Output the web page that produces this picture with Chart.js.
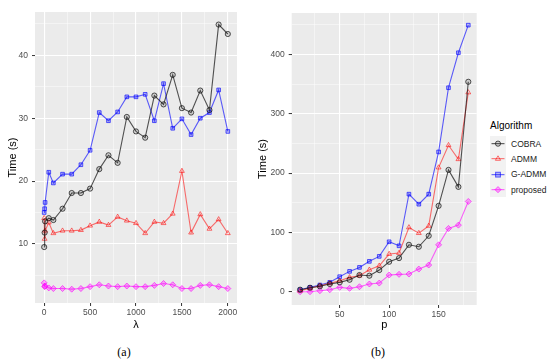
<!DOCTYPE html>
<html>
<head>
<meta charset="utf-8">
<script src="https://cdn.jsdelivr.net/npm/chart.js@4.4.1/dist/chart.umd.min.js"></script>
<style>
  html, body { margin: 0; padding: 0; background: #ffffff; }
  body { width: 550px; height: 363px; position: relative; overflow: hidden; font-family: "Liberation Sans", Arial, sans-serif; }
  .panel { position: absolute; top: 0; }
  .cap { position: absolute; top: 345px; font-family: "Liberation Serif", "DejaVu Serif", serif; font-size: 12px; color: #000; width: 40px; text-align: center; }
  #legend { position: absolute; left: 490px; top: 119px; font-family: "Liberation Sans", Arial, sans-serif; }
  #legend .ttl { font-size: 10px; color: #000; margin-bottom: 3px; height: 14px; line-height: 14px; }
  #legend .row { height: 15.3px; display: flex; align-items: center; }
  #legend .key { width: 16px; height: 15.3px; background: #F2F2F2; }
  #legend .lab { font-size: 8.5px; color: #1a1a1a; margin-left: 5px; }
</style>
</head>
<body>
<div class="panel" style="left:0px;"><canvas id="c1" width="245" height="332"></canvas></div>
<div class="panel" style="left:250px;"><canvas id="c2" width="235" height="332"></canvas></div>
<div id="legend"></div>
<div class="cap" style="left:104px;">(a)</div>
<div class="cap" style="left:358px;">(b)</div>
<script>
// ---------- data ----------
const seriesNames = ["COBRA", "ADMM", "G-ADMM", "proposed"];

const lambdaValues = [0, 5, 10, 50, 100, 200, 300, 400, 500, 600, 700, 800, 900, 1000, 1100, 1200, 1300, 1400, 1500, 1600, 1700, 1800, 1900, 2000];
const cobraA  = [9.5, 11.8, 13.6, 14.1, 13.8, 15.6, 18.1, 18.1, 18.8, 21.9, 24.1, 22.9, 30.2, 27.9, 26.9, 33.6, 32.2, 36.9, 31.6, 30.9, 34.4, 31.3, 44.9, 43.4];
const admmA   = [14.1, 10.8, 12.1, 13.4, 11.7, 12.1, 12.1, 12.2, 12.9, 13.5, 13.0, 14.3, 13.7, 13.3, 11.7, 13.5, 13.3, 14.8, 21.6, 11.8, 14.7, 12.4, 13.9, 11.7];
const gadmmA  = [15.0, 15.6, 16.6, 21.4, 19.7, 21.1, 21.1, 22.6, 24.9, 30.9, 29.6, 31.0, 33.4, 33.4, 33.8, 29.6, 35.5, 28.4, 29.9, 27.4, 30.0, 30.9, 34.5, 27.9];
const propA   = [3.8, 3.2, 3.3, 3.0, 2.9, 2.9, 2.8, 2.9, 3.2, 3.5, 3.3, 3.2, 3.3, 3.2, 3.2, 3.4, 3.7, 3.5, 2.9, 2.9, 3.4, 3.5, 3.2, 2.9];

const pValues = [10, 20, 30, 40, 50, 60, 70, 80, 90, 100, 110, 120, 130, 140, 150, 160, 170, 180];
const cobraB  = [3.4, 6.7, 9.1, 13.0, 15.8, 20.2, 28.1, 27.0, 36.5, 50.5, 56.7, 79.1, 75.8, 94.3, 144.8, 205.4, 176.8, 354.0];
const admmB   = [1.7, 5.7, 10.1, 14.1, 18.5, 24.2, 27.0, 37.0, 43.8, 63.5, 65.2, 108.4, 98.8, 111.0, 209.4, 247.0, 223.4, 336.0];
const gadmmB  = [3.4, 7.4, 11.3, 15.8, 25.3, 34.3, 41.0, 51.2, 59.6, 84.2, 77.4, 164.5, 147.6, 164.5, 235.7, 344.0, 403.0, 449.5];
const propB   = [0.0, 0.0, 1.7, 3.4, 7.4, 5.7, 8.4, 13.0, 14.6, 28.1, 29.3, 29.8, 38.2, 45.0, 79.1, 106.7, 112.3, 152.2];

const xTicksA = [0, 500, 1000, 1500, 2000];
const yTicksA = [10, 20, 30, 40];
const xTicksB = [50, 100, 150];
const yTicksB = [0, 100, 200, 300, 400];

// ---------- styles ----------
const styles = [
  { color: "rgba(20,20,20,0.72)",  point: "circle",   fill: "rgba(0,0,0,0.12)",      r: 2.6 },
  { color: "rgba(255,0,0,0.55)",   point: "triangle", fill: "rgba(0,0,0,0)",         r: 2.8 },
  { color: "rgba(0,0,255,0.62)",   point: "rect",     fill: "rgba(0,0,255,0.25)",    r: 2.6 },
  { color: "rgba(255,0,255,0.6)",  point: "rectRot",  fill: "rgba(255,0,255,0.3)",   r: 3.0 }
];

function mkSets(xs, ys) {
  return ys.map((arr, i) => ({
    label: seriesNames[i],
    data: xs.map((x, k) => ({ x: x, y: arr[k] })),
    borderColor: styles[i].color,
    backgroundColor: styles[i].fill,
    pointBorderColor: styles[i].color,
    pointBackgroundColor: styles[i].fill,
    pointStyle: styles[i].point,
    pointRadius: styles[i].r,
    pointBorderWidth: 1,
    borderWidth: 1.1,
    tension: 0,
    fill: false
  }));
}

const panelBg = {
  id: "panelBg",
  beforeDraw(chart) {
    const a = chart.chartArea, c = chart.ctx;
    c.save(); c.fillStyle = "#EBEBEB";
    c.fillRect(a.left, a.top, a.right - a.left, a.bottom - a.top);
    c.restore();
  }
};

function axis(min, max, majors, titleText, isY, fixedSize) {
  const isMajor = v => majors.some(m => Math.abs(m - v) < 1e-6);
  const step = majors[1] - majors[0];
  // major breaks plus the minor breaks halfway between them (ggplot2 style)
  const all = [];
  for (let v = majors[0] - step / 2; v <= max; v += step / 2) if (v >= min) all.push(v);
  return {
    type: "linear", min: min, max: max,
    border: { display: false },
    afterBuildTicks: s => { s.ticks = all.map(v => ({ value: v })); },
    grid: {
      color: ctx => ctx.tick && isMajor(ctx.tick.value) ? "#FFFFFF" : "rgba(255,255,255,0.8)",
      lineWidth: ctx => ctx.tick && isMajor(ctx.tick.value) ? 1.1 : 0.55,
      drawTicks: true, tickLength: 3,
      tickColor: ctx => ctx.tick && isMajor(ctx.tick.value) ? "#333333" : "rgba(0,0,0,0)",
      tickWidth: 1
    },
    ticks: {
      autoSkip: false, maxRotation: 0,
      color: "#4D4D4D", font: { family: "Liberation Sans", size: 8.5 },
      padding: isY ? 4 : 2,
      callback: v => isMajor(v) ? String(v) : ""
    },
    title: { display: true, text: titleText, color: "#000", padding: 0, font: { family: "Liberation Sans", size: 11 } },
    afterFit: s => { if (isY) s.width = fixedSize; else s.height = fixedSize; }
  };
}

function mkChart(id, xs, ys, xr, yr, xmaj, ymaj, xt, pad, yW, xH) {
  return new Chart(document.getElementById(id), {
    type: "line",
    data: { datasets: mkSets(xs, ys) },
    options: {
      responsive: false, animation: false, devicePixelRatio: 1,
      layout: { padding: pad },
      plugins: { legend: { display: false }, tooltip: { enabled: false } },
      scales: {
        x: axis(xr[0], xr[1], xmaj, xt, false, xH),
        y: axis(yr[0], yr[1], ymaj, "Time (s)", true, yW)
      }
    },
    plugins: [panelBg]
  });
}

mkChart("c1", lambdaValues, [cobraA, admmA, gadmmA, propA], [-100, 2100], [0.6, 46.9],
  xTicksA, yTicksA, "λ", { left: 6, top: 12, right: 8, bottom: 0 }, 29, 29);
mkChart("c2", pValues, [cobraB, admmB, gadmmB, propB], [1.5, 188.5], [-22.4, 470],
  xTicksB, yTicksB, "p", { left: 6, top: 13, right: 8.3, bottom: 0 }, 35.7, 27);

// ---------- legend ----------
const lg = document.getElementById("legend");
let html = '<div class="ttl">Algorithm</div>';
const markers = [
  c => `<circle cx="8" cy="7.65" r="2.6" fill="rgba(0,0,0,0.12)" stroke="${c}" stroke-width="1"/>`,
  c => `<polygon points="8,4.8 10.6,9.3 5.4,9.3" fill="none" stroke="${c}" stroke-width="1"/>`,
  c => `<rect x="5.6" y="5.25" width="4.8" height="4.8" fill="rgba(0,0,255,0.25)" stroke="${c}" stroke-width="1"/>`,
  c => `<polygon points="8,4.6 11,7.65 8,10.7 5,7.65" fill="rgba(255,0,255,0.3)" stroke="${c}" stroke-width="1"/>`
];
seriesNames.forEach((n, i) => {
  const c = styles[i].color;
  html += `<div class="row"><svg class="key" width="16" height="15.3"><rect width="16" height="15.3" fill="#F2F2F2"/>` +
    `<line x1="1.5" y1="7.65" x2="14.5" y2="7.65" stroke="${c}" stroke-width="1.1"/>` + markers[i](c) +
    `</svg><span class="lab">${n}</span></div>`;
});
lg.innerHTML = html;
</script>
</body>
</html>
